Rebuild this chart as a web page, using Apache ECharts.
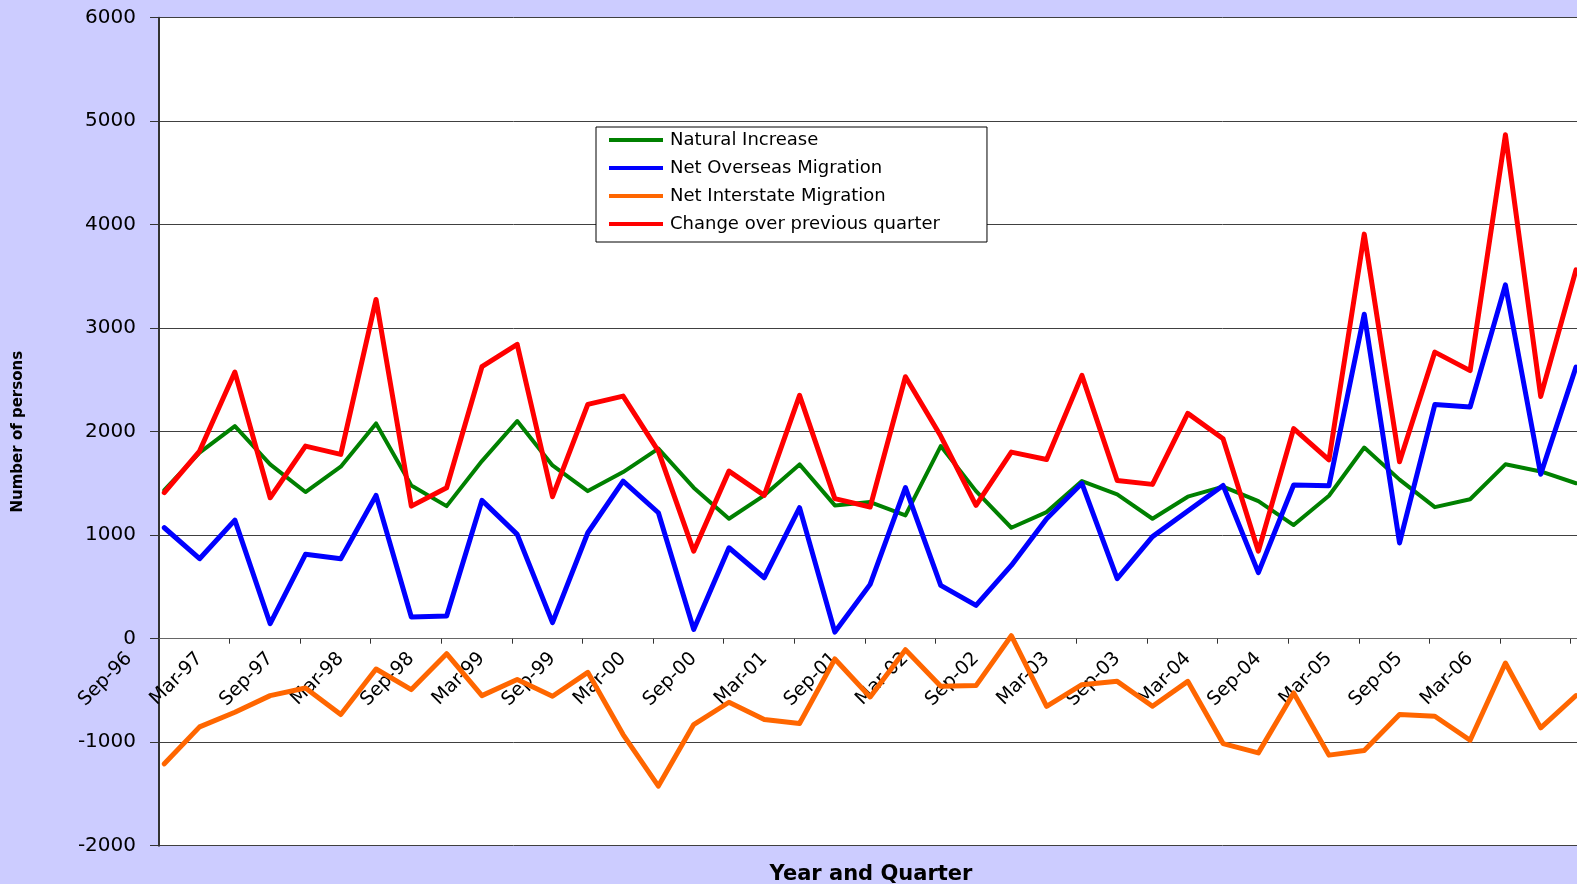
<!DOCTYPE html>
<html>
<head>
<meta charset="utf-8">
<title>Components of population change</title>
<script src="https://cdn.jsdelivr.net/npm/echarts@6/dist/echarts.min.js"></script>
<style>
html, body { margin: 0; padding: 0; background: #ccccff; }
#chart { width: 1577px; height: 884px; }
</style>
</head>
<body>
<div id="chart"></div>
<script>
// quarters on the category axis (Sep-96 has no values, it only carries the first label)
const quarters = [
  'Sep-96', 'Dec-96', 'Mar-97', 'Jun-97', 'Sep-97', 'Dec-97', 'Mar-98', 'Jun-98', 'Sep-98', 'Dec-98',
  'Mar-99', 'Jun-99', 'Sep-99', 'Dec-99', 'Mar-00', 'Jun-00', 'Sep-00', 'Dec-00', 'Mar-01', 'Jun-01',
  'Sep-01', 'Dec-01', 'Mar-02', 'Jun-02', 'Sep-02', 'Dec-02', 'Mar-03', 'Jun-03', 'Sep-03', 'Dec-03',
  'Mar-04', 'Jun-04', 'Sep-04', 'Dec-04', 'Mar-05', 'Jun-05', 'Sep-05', 'Dec-05', 'Mar-06', 'Jun-06',
  'Sep-06', 'Dec-06'
]

// Dec-96 .. Dec-06
const naturalIncrease = [
  1436, 1797, 2054, 1684, 1417, 1662, 2080, 1481, 1281, 1716, 2103,
  1674, 1426, 1610, 1836, 1459, 1159, 1385, 1684, 1288, 1320,
  1191, 1861, 1426, 1072, 1223, 1523, 1394, 1159, 1372, 1469,
  1329, 1098, 1381, 1847, 1537, 1271, 1347, 1685, 1616, 1502
]
const netOverseas = [
  1072, 773, 1146, 145, 815, 773, 1385, 209, 219, 1336, 1008,
  155, 1024, 1523, 1217, 90, 879, 589, 1266, 64, 525,
  1459, 515, 322, 708, 1159, 1501, 580, 986, 1233, 1481,
  639, 1485, 1478, 3135, 925, 2262, 2238, 3419, 1588, 2624
]
const netInterstate = [
  -1209, -852, -711, -550, -476, -733, -293, -492,
  -145, -550, -395, -556, -325, -926, -1424, -830, -614, -781, -820,
  -196, -563, -106, -460, -453, 29, -653, -444, -412, -653, -412,
  -1013, -1103, -524, -1125, -1080, -733, -749, -981, -235, -862, -550
]
const changeOverQuarter = [
  1411, 1813, 2576, 1362, 1861, 1781, 3278, 1281, 1459, 2628, 2843,
  1372, 2264, 2344, 1813, 846, 1619, 1385, 2351, 1353, 1272,
  2531, 1958, 1288, 1803, 1732, 2544, 1529, 1491, 2177, 1932,
  846, 2030, 1727, 3909, 1709, 2769, 2590, 4869, 2341, 3564
]

const seriesNames = ['Natural Increase', 'Net Overseas Migration', 'Net Interstate Migration', 'Change over previous quarter']
const seriesColors = ['#008000', '#0000ff', '#ff6600', '#ff0000']
const seriesWidths = [4, 5, 5, 5]
const seriesValues = [naturalIncrease, netOverseas, netInterstate, changeOverQuarter]

const theEcharts = echarts.init(document.getElementById('chart'))

const options = {
  animation: false,
  backgroundColor: '#ccccff',
  textStyle: { fontFamily: 'DejaVu Sans', color: '#000' },
  title: {
    text: 'Year and Quarter',
    left: 871,
    top: 864,
    textAlign: 'center',
    padding: 0,
    textStyle: { fontSize: 21, fontWeight: 'bold', color: '#000', fontFamily: 'DejaVu Sans' }
  },
  grid: [
    // plot frame: white area, gridlines, y axis and the tick marks
    { left: 159, right: 0, top: 17.7, bottom: 38.3, show: true, backgroundColor: '#fff', borderWidth: 0, outerBoundsMode: 'none' },
    // data grid, starts one quarter before the first point so Sep-96 gets its label
    { left: 129, right: 1, top: 17.7, bottom: 38.3, outerBoundsMode: 'none' }
  ],
  xAxis: [
    {
      gridIndex: 0,
      type: 'value',
      min: 0,
      max: 20.09,
      interval: 1,
      axisLine: { lineStyle: { color: '#666', width: 1 } },
      axisTick: { length: 5, lineStyle: { color: '#333' } },
      axisLabel: { show: false },
      splitLine: { show: false }
    },
    {
      gridIndex: 1,
      type: 'category',
      data: quarters,
      boundaryGap: false,
      offset: -207,
      axisLine: { show: false, onZero: false },
      axisTick: { show: false },
      splitLine: { show: false },
      axisLabel: {
        interval: 1,
        rotate: 45,
        margin: 17,
        fontSize: 19,
        color: '#000',
        showMaxLabel: false
      }
    }
  ],
  yAxis: [
    {
      gridIndex: 0,
      type: 'value',
      min: -2000,
      max: 6000,
      interval: 1000,
      axisLine: { show: true, lineStyle: { color: '#333', width: 2 } },
      axisTick: { show: true, length: 9, lineStyle: { color: '#333' } },
      axisLabel: { margin: 23, fontSize: 20, color: '#000', formatter: (v) => String(v) },
      splitLine: { show: true, lineStyle: { color: '#404040', width: 1 } },
      name: 'Number of persons',
      nameLocation: 'middle',
      nameRotate: 90,
      nameGap: 133,
      nameTextStyle: { fontSize: 15, fontWeight: 'bold', color: '#000', fontFamily: 'DejaVu Sans' }
    },
    {
      gridIndex: 1,
      type: 'value',
      min: -2000,
      max: 6000,
      show: false
    }
  ],
  legend: {
    orient: 'vertical',
    left: 596,
    top: 127,
    padding: [4, 47, 9, 13],
    itemGap: 10,
    itemWidth: 54,
    itemHeight: 4,
    icon: 'rect',
    backgroundColor: '#fff',
    borderColor: '#000',
    borderWidth: 1,
    selectedMode: false,
    textStyle: { fontSize: 18, lineHeight: 18, color: '#000', fontFamily: 'DejaVu Sans', padding: [0, 0, 0, 2] },
    data: seriesNames
  },
  series: seriesNames.map((name, i) => ({
    name: name,
    type: 'line',
    xAxisIndex: 1,
    yAxisIndex: 1,
    data: [null].concat(seriesValues[i]),
    symbol: 'none',
    silent: true,
    lineStyle: { color: seriesColors[i], width: seriesWidths[i], join: 'round', cap: 'round' },
    itemStyle: { color: seriesColors[i] }
  }))
}

theEcharts.setOption(options, true)
</script>
</body>
</html>
